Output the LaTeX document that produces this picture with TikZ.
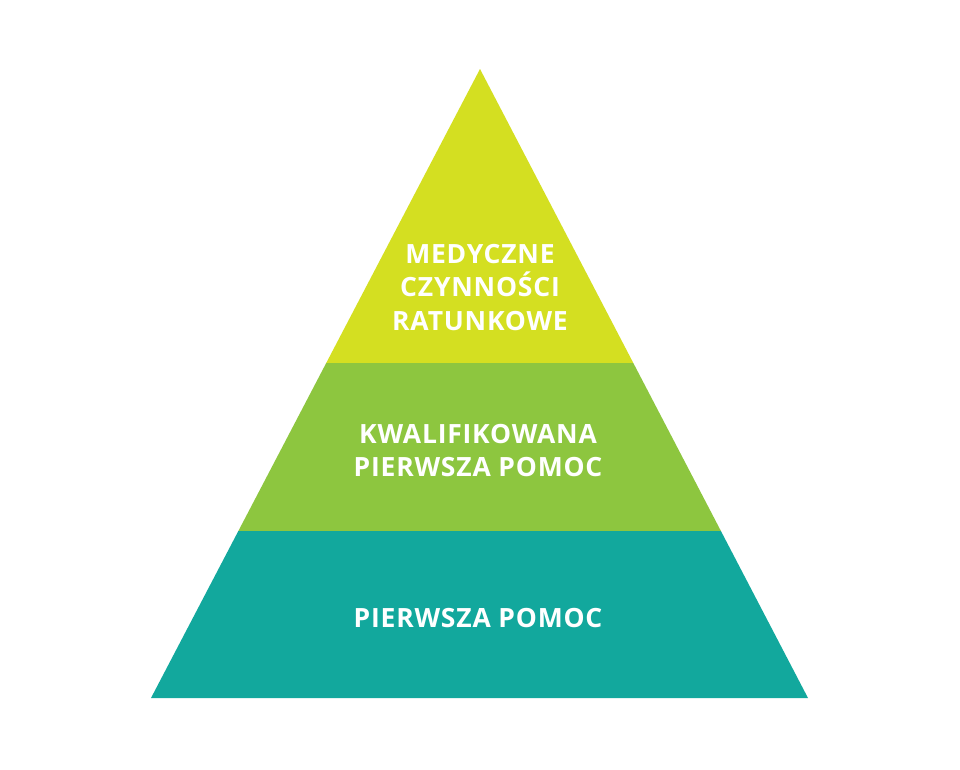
\documentclass[tikz,border=0pt]{standalone}
\usepackage{fontspec}
\setmainfont{Open Sans}[LetterSpace=3.0]
\definecolor{topcol}{HTML}{D4DF21}
\definecolor{midcol}{HTML}{8DC63F}
\definecolor{botcol}{HTML}{12A89D}
\begin{document}
\begin{tikzpicture}[x=1pt,y=-1pt,
  lbl/.style={anchor=base,inner sep=0pt,text=white,font=\fontsize{26.5}{30}\selectfont\bfseries}]
\useasboundingbox (0,0) rectangle (960,769);
\fill[white] (0,0) rectangle (960,769);
% apex (480,69), base (151,698)-(808,698)
\coordinate (A) at (480,69);
\coordinate (BL) at (151,698);
\coordinate (BR) at (808,698);
\path (A) -- (BL) coordinate[pos={(363-69)/(698-69)}] (L1) coordinate[pos={(531-69)/(698-69)}] (L2);
\path (A) -- (BR) coordinate[pos={(363-69)/(698-69)}] (R1) coordinate[pos={(531-69)/(698-69)}] (R2);
\fill[topcol] (A) -- (R1) -- (L1) -- cycle;
\fill[midcol] (L1) -- (R1) -- (R2) -- (L2) -- cycle;
\fill[botcol] (L2) -- (R2) -- (BR) -- (BL) -- cycle;
\node[lbl] (t1) at (480,263) {MEDYCZNE};
\node[lbl] (t2) at (480,296) {CZYNNOŚCI};
\node[lbl] (t3) at (480,330) {RATUNKOWE};
\node[lbl] (m1) at (478,443) {KWALIFIKOWANA};
\node[lbl] (m2) at (478,476) {PIERWSZA POMOC};
\node[lbl] (b1) at (478,627) {PIERWSZA POMOC};
\end{tikzpicture}
\end{document}
